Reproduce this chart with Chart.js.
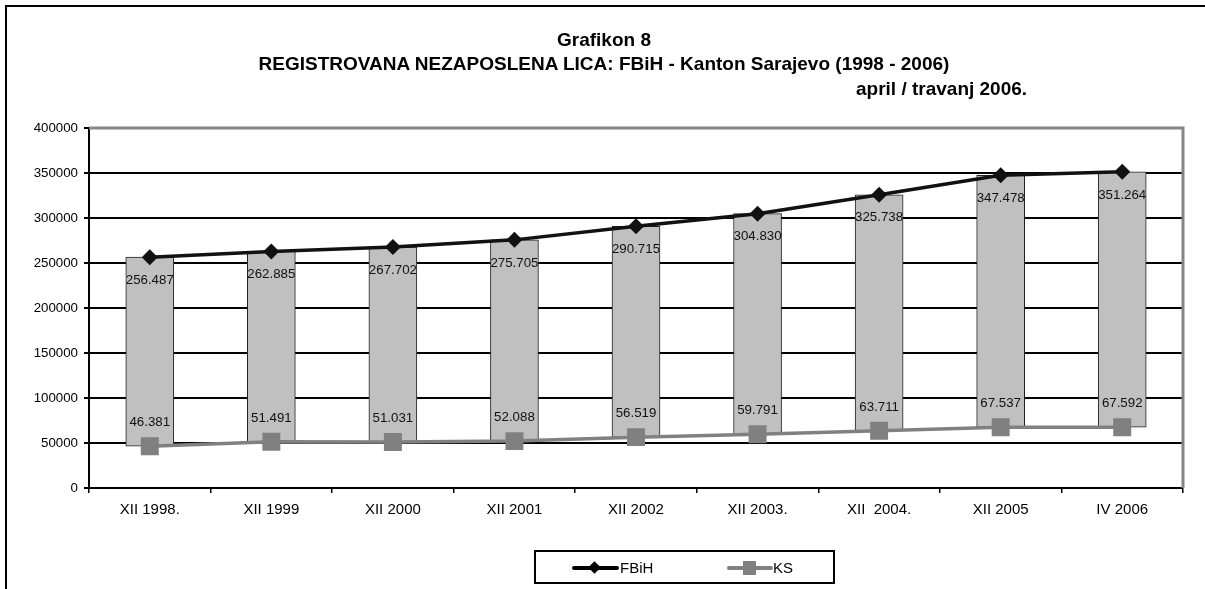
<!DOCTYPE html>
<html>
<head>
<meta charset="utf-8">
<script src="https://cdn.jsdelivr.net/npm/chart.js@4/dist/chart.umd.min.js"></script>
<style>
  html, body { margin: 0; padding: 0; background: #fff; overflow: hidden; }
  body { width: 1205px; height: 589px; position: relative; font-family: Arial, "Liberation Sans", sans-serif; }
  #chart { position: absolute; left: 0; top: 0; }
  .frame { position: absolute; left: 5px; top: 5px; width: 1400px; height: 800px; border-left: 2px solid #000; border-top: 2px solid #000; pointer-events: none; }
  .title { position: absolute; font-weight: bold; font-size: 19px; color: #000; white-space: pre; line-height: 22px; }
  .t-center { left: 0; width: 1208px; text-align: center; }
  .legend { position: absolute; left: 534px; top: 550px; width: 297px; height: 30px; border: 2px solid #000; background: #fff; }
  .legend .line { position: absolute; top: 14px; height: 4px; border-radius: 2px; }
  .legend .mark { position: absolute; }
  .legend .txt { position: absolute; top: 7px; font-size: 15px; line-height: 17px; color: #000; }
</style>
</head>
<body>
<canvas id="chart" width="1205" height="589"></canvas>
<div class="frame"></div>
<div class="title t-center" style="top: 29px;">Grafikon 8</div>
<div class="title t-center" style="top: 53px;">REGISTROVANA NEZAPOSLENA LICA: FBiH - Kanton Sarajevo (1998 - 2006)</div>
<div class="title" style="top: 78px; left: 856px;">april / travanj 2006.</div>
<div class="legend">
  <div class="line" style="left: 36px; width: 47px; background: #000;"></div>
  <div class="mark" style="left: 54px; top: 11px; width: 9px; height: 9px; background: #000; transform: rotate(45deg);"></div>
  <div class="txt" style="left: 84px;">FBiH</div>
  <div class="line" style="left: 191px; width: 46px; background: #808080;"></div>
  <div class="mark" style="left: 207px; top: 9px; width: 13px; height: 14px; background: #808080;"></div>
  <div class="txt" style="left: 237px;">KS</div>
</div>
<script>
const categories = ["XII 1998.", "XII 1999", "XII 2000", "XII 2001", "XII 2002", "XII 2003.", "XII  2004.", "XII 2005", "IV 2006"];
const fbihValues = [256487, 262885, 267702, 275705, 290715, 304830, 325738, 347478, 351264];
const ksValues = [46381, 51491, 51031, 52088, 56519, 59791, 63711, 67537, 67592];
const yTicks = [0, 50000, 100000, 150000, 200000, 250000, 300000, 350000, 400000];

const fontFamily = "Arial, 'Liberation Sans', sans-serif";

const formatValue = (v) => String(v).replace(/\B(?=(\d{3})+(?!\d))/g, ".");

// gray plot-area border (top and right), like the Excel frame
const plotBorder = {
  id: "plotBorder",
  beforeDatasetsDraw(chart) {
    const { ctx, chartArea } = chart;
    ctx.save();
    ctx.strokeStyle = "#858585";
    ctx.lineWidth = 3;
    ctx.beginPath();
    ctx.moveTo(chartArea.left, chartArea.top);
    ctx.lineTo(chartArea.right, chartArea.top);
    ctx.lineTo(chartArea.right, chartArea.bottom);
    ctx.stroke();
    ctx.restore();
  }
};

const valueLabels = {
  id: "valueLabels",
  afterDatasetsDraw(chart) {
    const { ctx } = chart;
    const top = chart.getDatasetMeta(0);
    const bottom = chart.getDatasetMeta(1);
    ctx.save();
    ctx.font = "13.3px " + fontFamily;
    ctx.fillStyle = "#111";
    ctx.textAlign = "center";
    ctx.textBaseline = "middle";
    top.data.forEach((pt, i) => {
      ctx.fillText(formatValue(fbihValues[i]), pt.x, pt.y + 23);
    });
    bottom.data.forEach((pt, i) => {
      ctx.fillText(formatValue(ksValues[i]), pt.x, pt.y - 23.5);
    });
    ctx.restore();
  }
};

new Chart(document.getElementById("chart"), {
  type: "bar",
  data: {
    labels: categories,
    datasets: [
      {
        type: "line",
        label: "FBiH",
        data: fbihValues,
        borderColor: "#111",
        backgroundColor: "#111",
        borderWidth: 3.5,
        pointStyle: "rectRot",
        pointRadius: 8,
        pointBorderWidth: 0,
        tension: 0,
        order: 1
      },
      {
        type: "line",
        label: "KS",
        data: ksValues,
        borderColor: "#808080",
        backgroundColor: "#808080",
        borderWidth: 3.5,
        pointStyle: "rect",
        pointRadius: 12.7,
        pointBorderWidth: 0,
        tension: 0,
        order: 2
      },
      {
        type: "bar",
        label: "range",
        data: ksValues.map((v, i) => [v, fbihValues[i]]),
        backgroundColor: "#c0c0c0",
        borderColor: "#222",
        borderWidth: 1,
        borderSkipped: false,
        barThickness: 48,
        order: 3
      }
    ]
  },
  options: {
    responsive: false,
    animation: false,
    layout: {
      padding: { top: 128, right: 22, left: 0, bottom: 0 }
    },
    plugins: {
      legend: { display: false },
      title: { display: false },
      tooltip: { enabled: false }
    },
    scales: {
      x: {
        offset: true,
        afterFit: (scale) => { scale.height = 101; },
        border: { color: "#000", width: 2 },
        grid: {
          offset: true,
          drawOnChartArea: false,
          drawTicks: true,
          tickLength: 5,
          color: "#000",
          lineWidth: 1.5
        },
        ticks: {
          color: "#000",
          padding: 8,
          maxRotation: 0,
          autoSkip: false,
          font: { family: fontFamily, size: 15 }
        }
      },
      y: {
        min: yTicks[0],
        max: yTicks[yTicks.length - 1],
        afterFit: (scale) => { scale.width = 89; },
        afterBuildTicks: (scale) => { scale.ticks = yTicks.map((v) => ({ value: v })); },
        border: { color: "#000", width: 2 },
        grid: {
          color: "#000",
          lineWidth: 2,
          tickLength: 5
        },
        ticks: {
          color: "#000",
          padding: 6,
          font: { family: fontFamily, size: 13.3 },
          callback: (v) => String(v)
        }
      }
    }
  },
  plugins: [plotBorder, valueLabels]
});
</script>
</body>
</html>
